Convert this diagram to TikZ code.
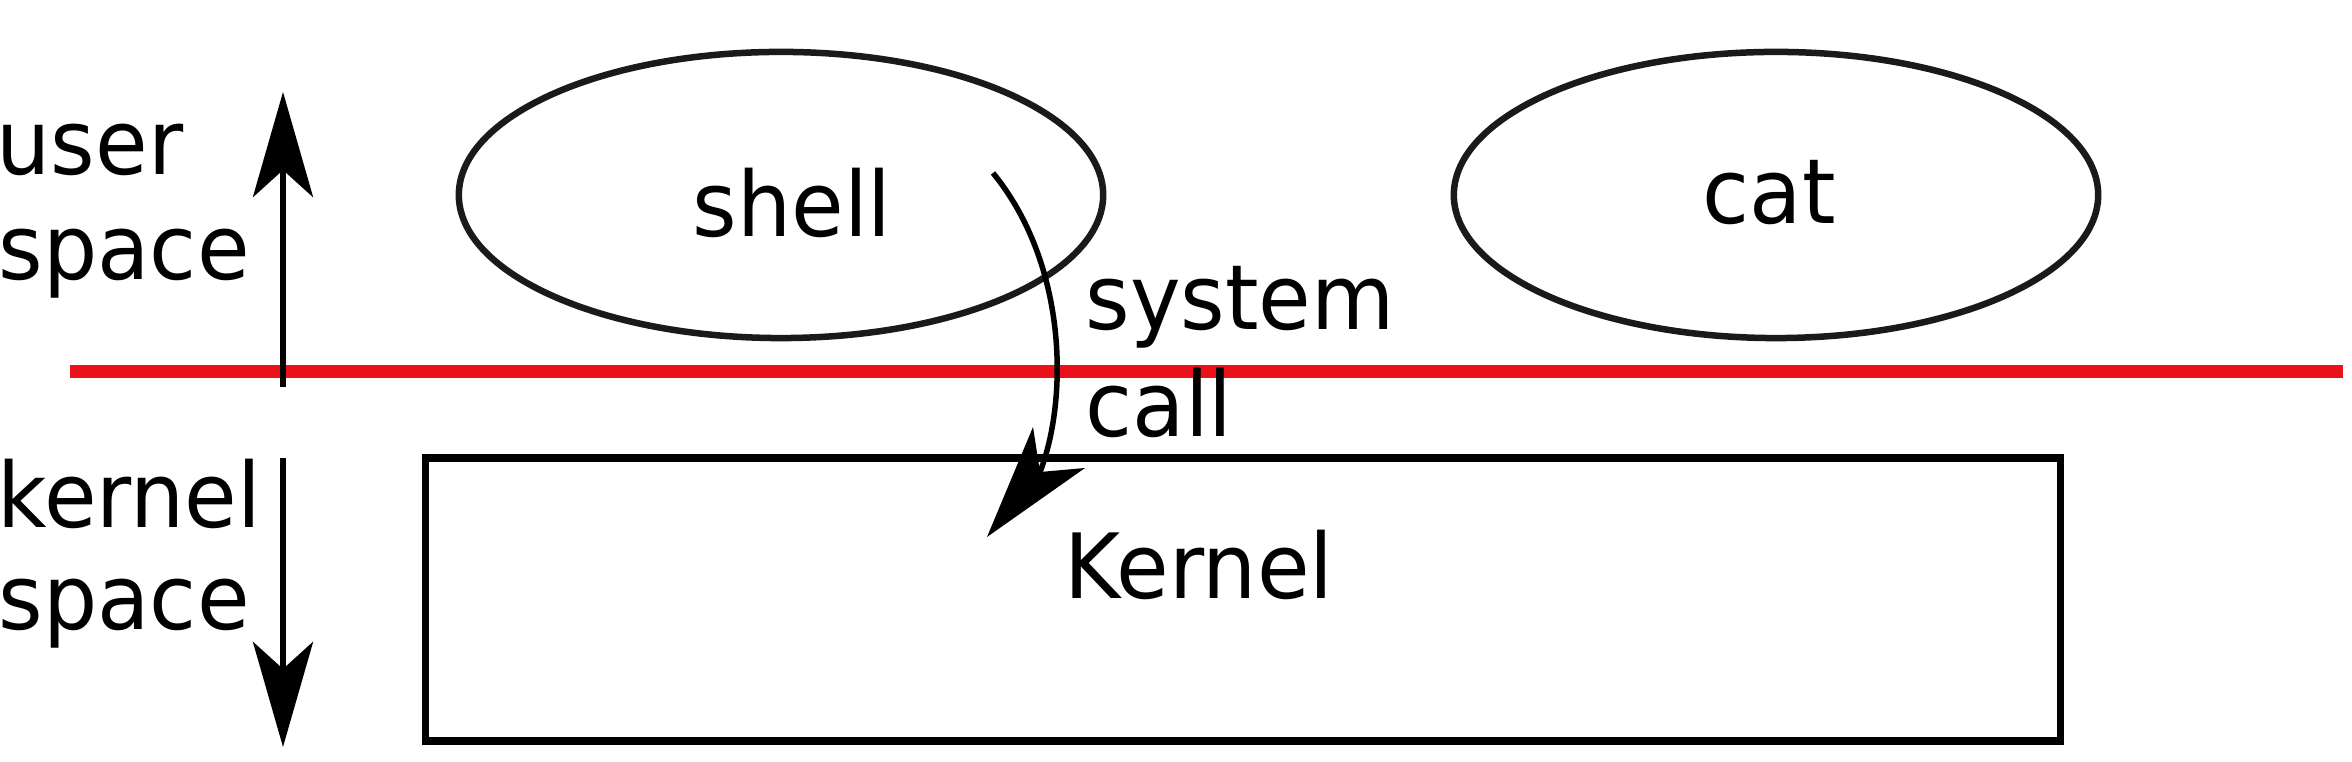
\documentclass[tikz,border=0pt]{standalone}
\usepackage{fontspec}
\setmainfont{DejaVu Sans}[FakeStretch=0.95]
\usetikzlibrary{shapes.geometric,arrows.meta}
\definecolor{redline}{RGB}{236,16,26}
\definecolor{darkline}{RGB}{26,26,26}
\tikzset{
  lbl/.style={font=\fontsize{25.6pt}{31pt}\selectfont, inner sep=0pt, anchor=base west},
  proc/.style={draw=darkline, line width=0.065cm, ellipse, inner sep=0pt, minimum width=6.44cm, minimum height=2.86cm},
  kbox/.style={draw=black, line width=0.078cm, rectangle, inner sep=0pt, minimum width=16.34cm, minimum height=2.83cm},
  vArrow/.style={line width=0.06cm, -{Stealth[length=1.05cm, width=0.6cm, inset=0.27cm]}},
  boundary/.style={draw=redline, line width=0.13cm}
}
\begin{document}
\begin{tikzpicture}[x=0.01cm, y=-0.01cm]
\useasboundingbox (0,0) rectangle (2352,762);
% boundary line
\coordinate (bl) at (70,372);
\coordinate (br) at (2343,372);
\draw[boundary] (bl) -- (br);
% processes
\node[proc] (shell) at (781,195) {};
\node[proc] (cat) at (1776,195) {};
\node[lbl] (shelltxt) at (692,237) {shell};
\node[lbl] (cattxt) at (1702,224) {cat};
% kernel box
\node[kbox] (kernel) at (1243,599.5) {};
\node[lbl] (kerneltxt) at (1064,599) {Kernel};
% left labels
\node[lbl] (user) at (-4,175) {user};
\node[lbl] (uspace) at (-2,280) {space};
\node[lbl] (kern) at (-3,528) {kernel};
\node[lbl] (kspace) at (-2,630) {space};
% vertical arrows
\coordinate (ua0) at (283,387);
\coordinate (ua1) at (283,92);
\coordinate (da0) at (283,458);
\coordinate (da1) at (283,747);
\draw[vArrow] (ua0) -- (ua1);
\draw[vArrow] (da0) -- (da1);
% system call
\node[lbl] (sys) at (1085,330) {system};
\node[lbl] (call) at (1085,437) {call};
\coordinate (scs) at (993,173);
\coordinate (scn) at (1040,472);
\coordinate (sct) at (987,537);
\coordinate (scl) at (1033,427);
\coordinate (scr) at (1085,468);
\draw[line width=0.055cm] (scs) .. controls (1068,265) and (1068,400) .. (scn);
\fill[black] (sct) -- (scl) -- (scn) -- (scr) -- cycle;
\end{tikzpicture}
\end{document}
